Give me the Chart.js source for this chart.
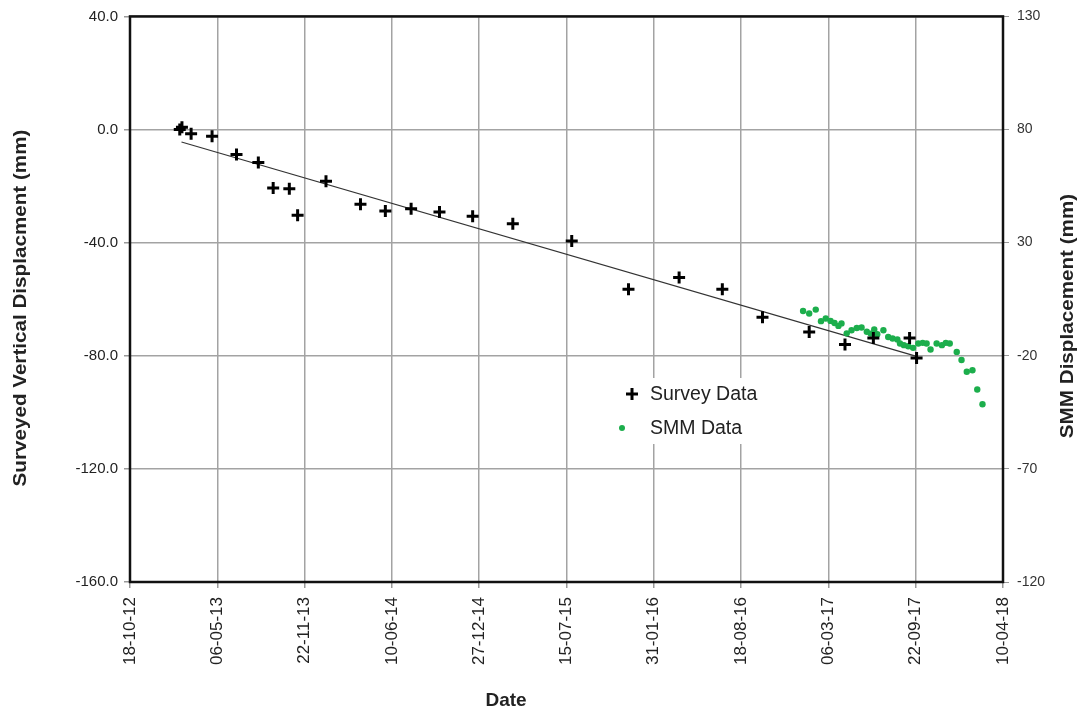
<!DOCTYPE html>
<html lang="en">
<head>
<meta charset="UTF-8">
<title>Surveyed Vertical Displacement vs SMM Displacement</title>
<script src="https://cdn.jsdelivr.net/npm/chart.js@4.4.1/dist/chart.umd.js"></script>
<style>
  body { margin: 0; background: #fff; }
  #wrap { width: 1083px; height: 713px; }
</style>
</head>
<body>
<div id="wrap"><canvas id="chart"></canvas></div>
<script>
// x axis runs 2000 days from this date, ticks every 200 days
const startDate = '2012-10-18';
const xTickLabels = ['18-10-12', '06-05-13', '22-11-13', '10-06-14', '27-12-14', '15-07-15',
  '31-01-16', '18-08-16', '06-03-17', '22-09-17', '10-04-18'];

const surveyDates = ['2013-02-09', '2013-02-14', '2013-03-07', '2013-04-24', '2013-06-19', '2013-08-08',
  '2013-09-11', '2013-10-18', '2013-11-06', '2014-01-10', '2014-03-30', '2014-05-26', '2014-07-24',
  '2014-09-27', '2014-12-12', '2015-03-14', '2015-07-27', '2015-12-04', '2016-03-29', '2016-07-06',
  '2016-10-06', '2017-01-21', '2017-04-13', '2017-06-17', '2017-09-08', '2017-09-24'];
const surveyValues = [0.0, 0.8, -1.5, -2.4, -8.8, -11.7, -20.7, -20.9, -30.3, -18.3, -26.4, -28.8, -28.0,
  -29.2, -30.7, -33.3, -39.4, -56.5, -52.3, -56.5, -66.4, -71.6, -76.0, -73.7, -73.7, -80.8];

const trendDates = ['2013-02-13', '2017-09-24'];
const trendValues = [-4.4, -80.2];

const smmDates = ['2017-01-07', '2017-01-21', '2017-02-05', '2017-02-17', '2017-02-28', '2017-03-11',
  '2017-03-20', '2017-03-29', '2017-04-05', '2017-04-17', '2017-04-28', '2017-05-10', '2017-05-21',
  '2017-06-02', '2017-06-11', '2017-06-19', '2017-06-26', '2017-07-10', '2017-07-21', '2017-07-31',
  '2017-08-11', '2017-08-17', '2017-08-26', '2017-09-05', '2017-09-16', '2017-09-28', '2017-10-08',
  '2017-10-17', '2017-10-26', '2017-11-09', '2017-11-21', '2017-11-30', '2017-12-09', '2017-12-25',
  '2018-01-05', '2018-01-17', '2018-01-30', '2018-02-10', '2018-02-22'];
const smmValues = [-0.2, -1.3, 0.4, -4.7, -3.5, -4.6, -5.5, -6.8, -5.7, -10.1, -8.7, -7.7, -7.5,
  -9.4, -10.2, -8.4, -10.5, -8.7, -11.7, -12.4, -12.8, -14.6, -15.3, -15.8, -16.5, -14.6, -14.3,
  -14.6, -17.2, -14.6, -15.3, -14.3, -14.6, -18.3, -21.9, -27.1, -26.4, -34.9, -41.4];

const FONT = '"Liberation Sans", Arial, sans-serif';
const smmGreen = '#1cae4c';

function dayOf(d) {
  return (Date.parse(d) - Date.parse(startDate)) / 864e5;
}
function toPoints(dates, values) {
  return dates.map((d, i) => ({ x: dayOf(d), y: values[i] }));
}

// vertical title, stretched along its length like the original
function sideTitle(ctx, text, x, y) {
  ctx.save();
  ctx.translate(x, y);
  ctx.rotate(-Math.PI / 2);
  ctx.scale(1.18, 1);
  ctx.fillText(text, 0, 0);
  ctx.restore();
}

// frame, legend and axis titles
const extras = {
  id: 'extras',
  afterDraw(chart) {
    const { ctx, chartArea: a } = chart;
    ctx.save();
    ctx.strokeStyle = '#111';
    ctx.lineWidth = 2.5;
    ctx.strokeRect(a.left, a.top, a.right - a.left, a.bottom - a.top);

    // legend box
    ctx.fillStyle = '#fff';
    ctx.fillRect(606, 378, 170, 66);
    ctx.strokeStyle = '#000';
    ctx.lineWidth = 3;
    ctx.beginPath();
    ctx.moveTo(626, 394); ctx.lineTo(638, 394);
    ctx.moveTo(632, 388); ctx.lineTo(632, 400);
    ctx.stroke();
    ctx.fillStyle = smmGreen;
    ctx.beginPath();
    ctx.arc(622, 428, 3, 0, Math.PI * 2);
    ctx.fill();
    ctx.fillStyle = '#222';
    ctx.font = '19.5px ' + FONT;
    ctx.textBaseline = 'middle';
    ctx.textAlign = 'left';
    const labels = chart.data.datasets.filter(ds => ds.inLegend).map(ds => ds.label);
    ctx.fillText(labels[0], 650, 395);
    ctx.fillText(labels[1], 650, 429);

    // axis titles
    ctx.textAlign = 'center';
    ctx.font = 'bold 19px ' + FONT;
    ctx.fillText('Date', 506, 701);
    ctx.font = 'bold 17.5px ' + FONT;
    sideTitle(ctx, 'Surveyed Vertical Displacment (mm)', 21, 308);
    sideTitle(ctx, 'SMM Displacement (mm)', 1068, 316);
    ctx.restore();
  }
};

new Chart(document.getElementById('chart'), {
  type: 'scatter',
  data: {
    datasets: [
      {
        label: 'Survey Data',
        inLegend: true,
        data: toPoints(surveyDates, surveyValues),
        pointStyle: 'cross',
        pointRadius: 6,
        borderWidth: 3,
        borderColor: '#000',
        backgroundColor: '#000',
        yAxisID: 'y',
        order: 1
      },
      {
        label: 'SMM Data',
        inLegend: true,
        data: toPoints(smmDates, smmValues),
        pointStyle: 'circle',
        pointRadius: 3.2,
        borderWidth: 0,
        backgroundColor: smmGreen,
        yAxisID: 'y2',
        order: 2
      },
      {
        label: 'Trend',
        data: toPoints(trendDates, trendValues),
        showLine: true,
        pointRadius: 0,
        borderColor: '#333',
        borderWidth: 1.2,
        yAxisID: 'y',
        order: 3
      }
    ]
  },
  options: {
    responsive: true,
    maintainAspectRatio: false,
    animation: false,
    layout: { padding: { top: 16, left: 0, right: 0, bottom: 0 } },
    plugins: {
      legend: { display: false },
      tooltip: { enabled: false }
    },
    scales: {
      x: {
        type: 'linear',
        min: 0,
        max: 2000,
        afterFit: s => { s.height = 131; },
        grid: { color: '#a3a3a3', lineWidth: 1.5, tickLength: 6, tickColor: '#999' },
        border: { display: false },
        ticks: {
          stepSize: 200,
          autoSkip: false,
          maxRotation: 90,
          minRotation: 90,
          padding: 9,
          color: '#222',
          font: { family: FONT, size: 17 },
          callback: (v, i) => xTickLabels[i]
        }
      },
      y: {
        position: 'left',
        min: -160,
        max: 40,
        afterFit: s => { s.width = 130; },
        grid: { color: '#a3a3a3', lineWidth: 1.5, tickLength: 6, tickColor: '#999' },
        border: { display: false },
        ticks: {
          stepSize: 40,
          padding: 6,
          color: '#222',
          font: { family: FONT, size: 15 },
          callback: v => v.toFixed(1)
        }
      },
      y2: {
        position: 'right',
        min: -120,
        max: 130,
        afterFit: s => { s.width = 80; },
        grid: { drawOnChartArea: false, tickLength: 6, tickColor: '#999' },
        border: { display: false },
        ticks: {
          stepSize: 50,
          padding: 8,
          color: '#333',
          font: { family: FONT, size: 14 }
        }
      }
    }
  },
  plugins: [extras]
});
</script>
</body>
</html>
